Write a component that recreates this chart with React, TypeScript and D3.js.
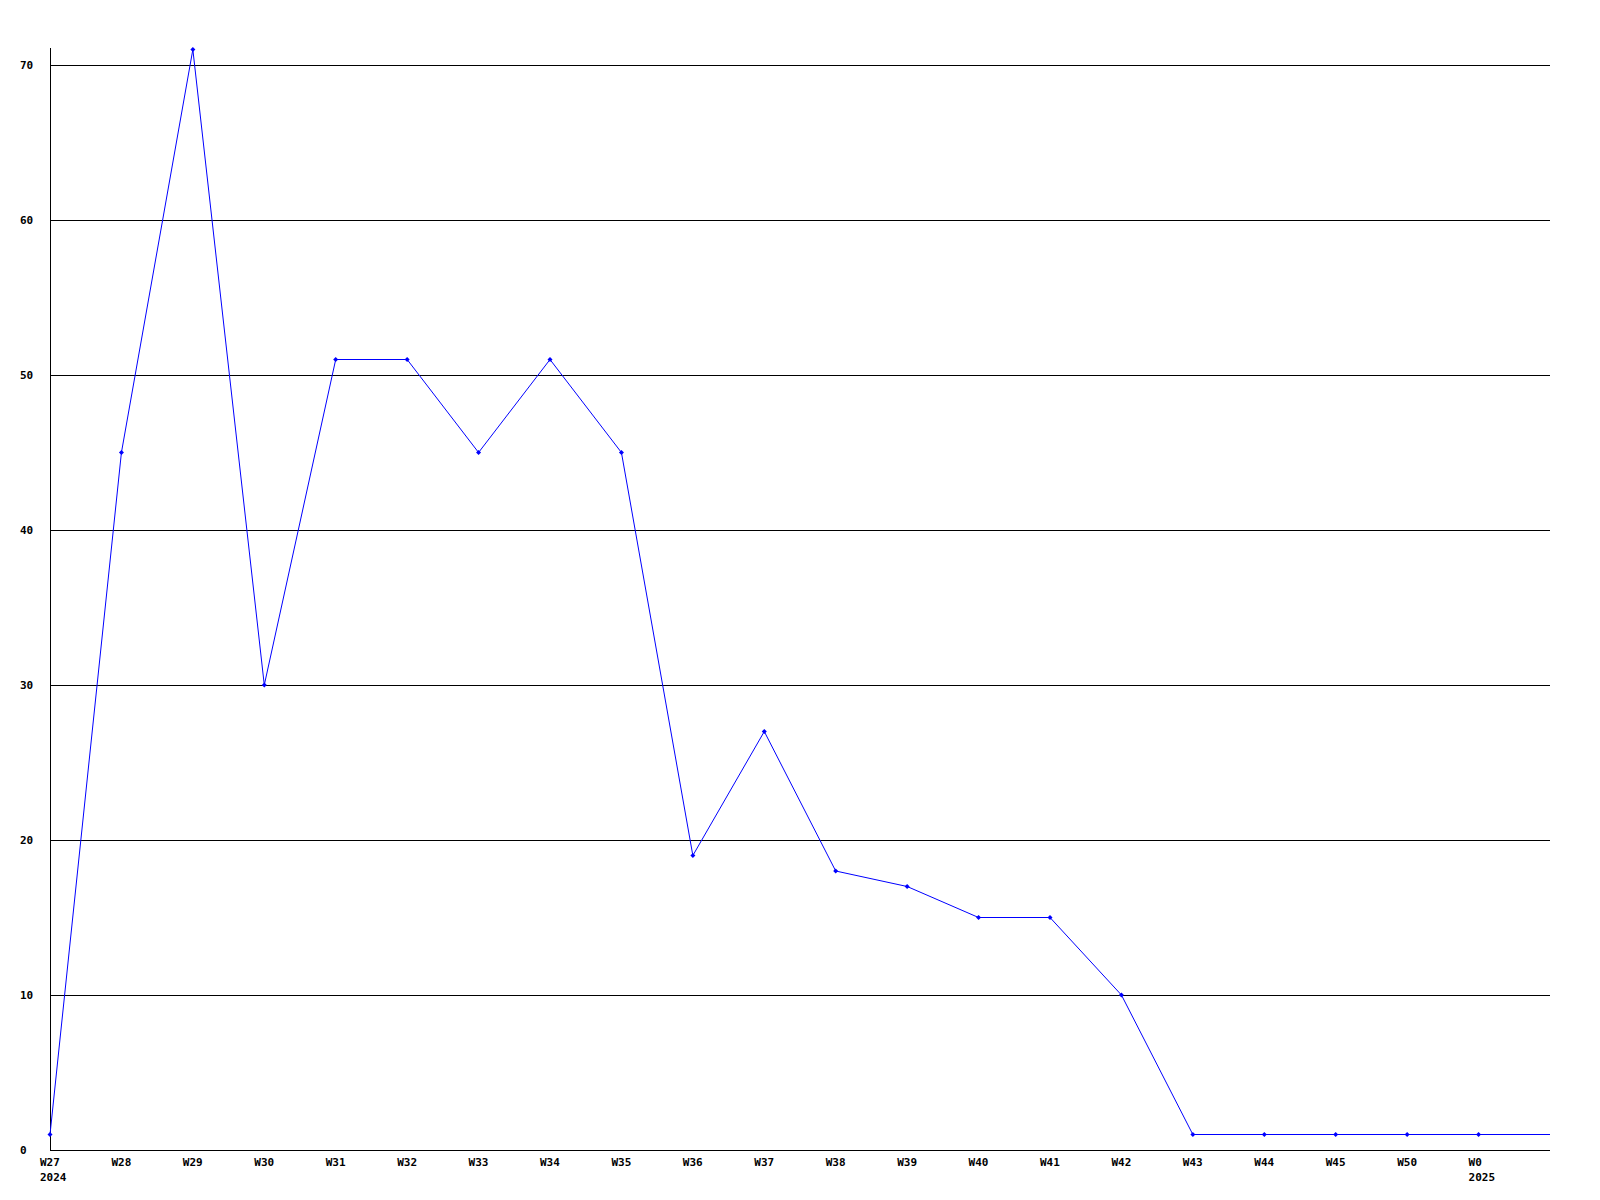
import React from "react";
import * as d3 from "d3";

const weekLabels = ["W27","W28","W29","W30","W31","W32","W33","W34","W35","W36","W37","W38","W39","W40","W41","W42","W43","W44","W45","W50","W0"];
const yearLabels: Record<number, string> = { 0: "2024", 20: "2025" };
const values = [1,45,71,30,51,51,45,51,45,19,27,18,17,15,15,10,1,1,1,1,1];
const tailValue = 1;
const yTicks = [0,10,20,30,40,50,60,70];

export default function App() {
  const W = 1600, H = 1200;
  const x = d3.scaleLinear().domain([0, 21]).range([50, 1550]);
  const y = d3.scaleLinear().domain([0, 70]).range([1150, 65]);
  const pts: [number, number][] = values.map((v, i) => [x(i), y(v)]);
  const linePts: [number, number][] = [...pts, [x(21), y(tailValue)]];
  const line = d3.line<[number, number]>().x(d => d[0]).y(d => d[1]);
  const font = "'DejaVu Sans Mono', monospace";
  return (
    <svg width={W} height={H} style={{ position: "absolute", left: 0, top: 0, background: "#fff" }}>
      <rect width={W} height={H} fill="#fff" />
      {yTicks.filter(t => t > 0).map(t => (
        <line key={t} x1={50} x2={1550} y1={Math.round(y(t)) + 0.5} y2={Math.round(y(t)) + 0.5} stroke="#000" strokeWidth={1} />
      ))}
      <line x1={50.5} x2={50.5} y1={48} y2={1150} stroke="#000" />
      <line x1={50} x2={1550} y1={1150.5} y2={1150.5} stroke="#000" />
      {yTicks.map(t => (
        <text key={t} x={20} y={y(t)} dy="0.35em" fontFamily={font} fontWeight="bold" fontSize={11} fill="#000">{t}</text>
      ))}
      {weekLabels.map((l, i) => (
        <text key={l} x={x(i) - 10} y={1162} dy="0.35em" fontFamily={font} fontWeight="bold" fontSize={11} fill="#000">{l}</text>
      ))}
      {Object.entries(yearLabels).map(([i, l]) => (
        <text key={l} x={x(+i) - 10} y={1177} dy="0.35em" fontFamily={font} fontWeight="bold" fontSize={11} fill="#000">{l}</text>
      ))}
      <path d={line(linePts) || ""} fill="none" stroke="#0000ff" strokeWidth={1} />
      {pts.map((p, i) => (
        <path key={i} d={`M${p[0]},${p[1] - 2.5}L${p[0] + 2.5},${p[1]}L${p[0]},${p[1] + 2.5}L${p[0] - 2.5},${p[1]}Z`} fill="#0000ff" />
      ))}
    </svg>
  );
}
